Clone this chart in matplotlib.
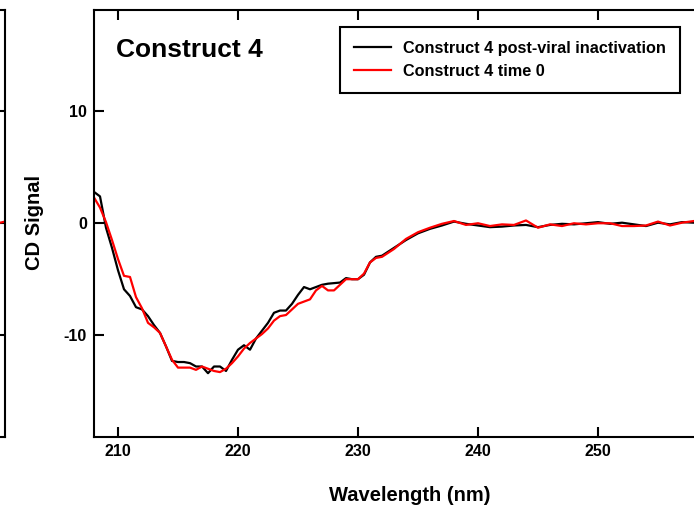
import matplotlib
matplotlib.use("Agg")
import matplotlib.pyplot as plt
import numpy as np

plt.rcParams["font.family"] = ["Liberation Sans", "DejaVu Sans"]
plt.rcParams["font.weight"] = "bold"
plt.rcParams["axes.unicode_minus"] = False

# CD scan, 0.5 nm steps through the minimum, 1 nm steps on the flat tail
wavelength = np.concatenate([np.arange(208, 232, 0.5), np.arange(232, 261, 1.0)])

cd_post_viral = [
    2.8, 2.4, -0.4, -2.2, -4.2, -5.9, -6.5, -7.5, -7.7, -8.3,
    -9.1, -9.8, -11.0, -12.3, -12.4, -12.4, -12.5, -12.8, -12.8, -13.4,
    -12.8, -12.8, -13.2, -12.2, -11.3, -10.9, -11.3, -10.3, -9.6, -8.9,
    -8.0, -7.8, -7.8, -7.2, -6.4, -5.7, -5.9, -5.7, -5.5, -5.4,
    -5.35, -5.3, -4.9, -5.0, -5.0, -4.6, -3.5, -3.0,
    # 232 .. 260
    -2.9, -2.2, -1.5, -0.9, -0.5, -0.2, 0.15, -0.05, -0.2, -0.35,
    -0.3, -0.2, -0.15, -0.35, -0.15, -0.05, -0.1, 0.0, 0.1, -0.05,
    0.05, -0.1, -0.25, 0.05, -0.1, 0.1, 0.05, 0.0, 0.1,
]

cd_time0 = [
    2.3, 1.4, 0.1, -1.5, -3.2, -4.7, -4.8, -6.6, -7.6, -8.9,
    -9.3, -9.8, -11.0, -12.2, -12.9, -12.9, -12.9, -13.1, -12.8, -13.0,
    -13.2, -13.3, -13.0, -12.5, -11.9, -11.2, -10.7, -10.3, -9.9, -9.4,
    -8.7, -8.3, -8.2, -7.7, -7.2, -7.0, -6.8, -6.0, -5.6, -6.0,
    -6.0, -5.5, -5.0, -5.0, -5.0, -4.5, -3.5, -3.1,
    # 232 .. 260
    -3.0, -2.3, -1.4, -0.8, -0.4, -0.05, 0.2, -0.15, 0.0, -0.25,
    -0.1, -0.15, 0.25, -0.4, -0.1, -0.25, 0.0, -0.1, 0.0, 0.0,
    -0.25, -0.25, -0.2, 0.15, -0.2, 0.05, 0.2, 0.15, 0.1,
]

# tail end of the neighbouring panel's time-0 trace
neighbor_wavelength = [258, 259, 260]
neighbor_cd = [0.0, -0.1, 0.15]

x_ticks = [210, 220, 230, 240, 250]
y_ticks = [-10, 0, 10]

W, H = 694, 508
fig = plt.figure(figsize=(W / 100, H / 100), dpi=100)

ax_left, ax_bottom, ax_w, ax_h = 94, 71, 624, 427.5
ax = fig.add_axes([ax_left / W, ax_bottom / H, ax_w / W, ax_h / H])

ax.plot(wavelength, cd_post_viral, color="black", lw=1.6,
        label="Construct 4 post-viral inactivation")
ax.plot(wavelength, cd_time0, color="red", lw=1.6,
        label="Construct 4 time 0")

ax.set_xlim(208, 260)
ax.set_ylim(-19.1, 19.1)
ax.set_xticks(x_ticks)
ax.set_yticks(y_ticks)
ax.tick_params(direction="in", length=7, width=1.5, labelsize=11.5,
               top=True, right=True, pad=5)
for lbl in ax.get_xticklabels() + ax.get_yticklabels():
    lbl.set_fontweight("bold")
for sp in ax.spines.values():
    sp.set_linewidth(1.5)

ax.set_xlabel("Wavelength (nm)", fontsize=14.5, fontweight="bold", va="baseline")
ax.xaxis.set_label_coords((410 - ax_left) / ax_w, 1 - (501 - 9.5) / ax_h)
ax.set_ylabel("CD Signal", fontsize=14.5, fontweight="bold", va="center")
ax.yaxis.set_label_coords((35 - ax_left) / ax_w, 1 - (222 - 9.5) / ax_h)

ax.text((116 - ax_left) / ax_w, 1 - (57 - 9.5) / ax_h, "Construct 4",
        transform=ax.transAxes, fontsize=19, fontweight="bold", va="baseline")

leg = ax.legend(loc="upper right",
                bbox_to_anchor=((680 - ax_left) / ax_w, 1 - (27 - 9.5) / ax_h),
                borderaxespad=0, fontsize=11.7, handlelength=2.3,
                handletextpad=0.75, labelspacing=0.5, borderpad=0.85,
                fancybox=False, framealpha=1)
leg.get_frame().set_edgecolor("black")
leg.get_frame().set_linewidth(1.5)
for t in leg.get_texts():
    t.set_fontweight("bold")

# neighbouring panel to the left, only its right edge shows
nb_w = 624
nb = fig.add_axes([(5 - nb_w) / W, ax_bottom / H, nb_w / W, ax_h / H])
nb.plot(neighbor_wavelength, neighbor_cd, color="red", lw=1.6)
nb.set_xlim(208, 260)
nb.set_ylim(-19.1, 19.1)
nb.set_xticks([])
nb.set_yticks(y_ticks)
nb.tick_params(direction="in", length=7, width=1.5, left=False, right=True,
               labelleft=False, labelright=False)
for sp in nb.spines.values():
    sp.set_linewidth(1.5)

# axis title of the panel above, cut off at the top edge
fig.text(410 / W, 1 + 3.5 / H, "Wavelength (nm)", ha="center", va="baseline",
         fontsize=14.5, fontweight="bold", color="0.75")

fig.savefig("out.png", dpi=100)
